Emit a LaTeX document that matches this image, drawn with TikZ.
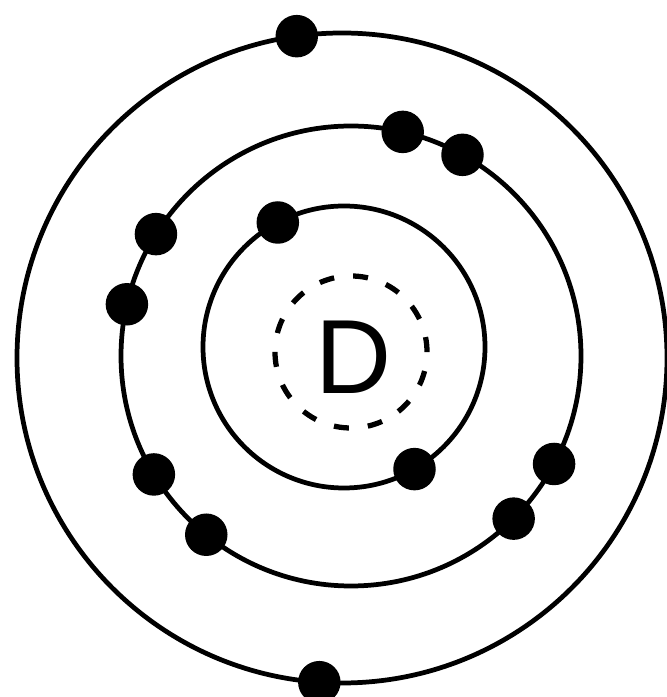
\documentclass[tikz,border=0pt]{standalone}
\usepackage{fontspec}
\usepackage{tikz}
\newfontfamily\corefont{Liberation Sans}

\begin{document}
\begin{tikzpicture}[
        shell/.style={circle, draw, line width=2.7pt, inner sep=0pt, outer sep=0pt},
        core/.style={circle, draw, line width=3pt, dash pattern=on 0.3cm off 0.382cm, inner sep=0pt, outer sep=0pt, minimum size=3.04cm},
        electron/.style={circle, fill=black, inner sep=0pt, minimum size=0.85cm}
    ]
        \useasboundingbox (0,0) rectangle (13.34,13.94);

        % Shells
        \node[shell, minimum size=13cm] (outer) at (6.84,6.78) {};
        \node[shell, minimum size=9.2cm] (middle) at (7.02,6.82) {};
        \node[shell, minimum size=5.64cm] (inner) at (6.88,7.00) {};

        % Core
        \node[core] (core) at (7.02,6.90) {};
        \node (symbol) at (7.08,6.80) {\corefont\fontsize{60}{60}\selectfont D};

        % Inner shell electrons
        \node[electron] (i1) at (inner.118) {};
        \node[electron] (i2) at (inner.300) {};

        % Middle shell electrons
        \foreach \a [count=\i] in {77,61,148,167,211,231,315,332}
            \node[electron] (m\i) at (middle.\a) {};

        % Outer shell electrons
        \node[electron] (o1) at (outer.98) {};
        \node[electron] (o2) at (outer.266) {};
\end{tikzpicture}
\end{document}
